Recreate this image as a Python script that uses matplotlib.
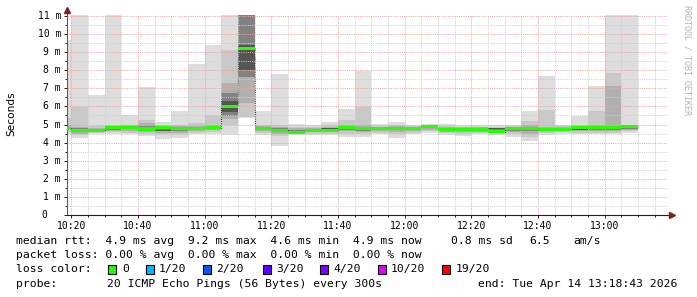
import matplotlib
matplotlib.use("Agg")
import matplotlib.pyplot as plt
from matplotlib.patches import Rectangle
from matplotlib import transforms
import numpy as np

# end time of each 5 minute step (value covers the 5 minutes before it)
end_times = ["10:20", "10:25", "10:30", "10:35", "10:40", "10:45", "10:50", "10:55",
             "11:00", "11:05", "11:10", "11:15", "11:20", "11:25", "11:30", "11:35",
             "11:40", "11:45", "11:50", "11:55", "12:00", "12:05", "12:10", "12:15",
             "12:20", "12:25", "12:30", "12:35", "12:40", "12:45", "12:50", "12:55",
             "13:00", "13:05", "13:10"]

# median rtt in ms
median = [4.80, 4.65, 4.67, 4.83, 4.85, 4.75, 4.82, 4.80, 4.80, 4.82, 6.00, 9.20,
          4.78, 4.68, 4.58, 4.67, 4.68, 4.85, 4.80, 4.78, 4.80, 4.80, 4.87, 4.72,
          4.70, 4.70, 4.60, 4.80, 4.80, 4.70, 4.73, 4.82, 4.82, 4.82, 4.87]

# smoke, outer band: min / max ping (11.5 = above the top of the graph)
ping_min = [4.50, 4.25, 4.50, 4.50, 4.45, 4.35, 4.20, 4.25, 4.45, 4.50, 4.41, 5.35,
            4.40, 3.80, 4.40, 4.42, 4.40, 4.30, 4.30, 4.45, 4.25, 4.45, 4.52, 4.42,
            4.35, 4.45, 4.40, 4.30, 4.08, 4.40, 4.50, 4.45, 4.45, 4.45, 4.55]
ping_max = [9.65, 11.5, 6.62, 11.5, 5.52, 7.05, 5.13, 5.72, 8.32, 9.37, 11.5, 11.5,
            5.75, 7.80, 5.05, 5.00, 5.15, 5.87, 7.95, 5.05, 5.12, 5.00, 5.02, 5.05,
            4.97, 4.97, 5.00, 5.00, 5.72, 7.70, 5.00, 5.47, 7.10, 11.5, 11.5]

# inner smoke bands (darker towards the middle)
band2_lo = [4.60, 4.40, 4.55, 4.58, 4.55, 4.50, 4.40, 4.40, 4.55, 4.60, 4.95, 5.42,
            4.55, 4.35, 4.48, 4.50, 4.50, 4.50, 4.45, 4.55, 4.45, 4.55, 4.65, 4.52,
            4.48, 4.55, 4.48, 4.45, 4.30, 4.55, 4.58, 4.55, 4.55, 4.55, 4.62]
band2_hi = [5.35, 5.97, 4.90, 5.00, 5.00, 5.23, 4.98, 4.95, 5.07, 5.50, 9.10, 11.5,
            5.00, 5.00, 4.85, 4.88, 4.95, 5.23, 5.95, 4.92, 4.98, 4.92, 4.97, 4.92,
            4.88, 4.88, 4.88, 4.92, 5.18, 5.79, 4.90, 4.95, 5.73, 7.85, 5.00]
band3_lo = [4.68, 4.50, 4.60, 4.65, 4.65, 4.58, 4.55, 4.55, 4.62, 4.68, 5.30, 6.20,
            4.62, 4.50, 4.52, 4.56, 4.57, 4.62, 4.58, 4.62, 4.60, 4.64, 4.72, 4.58,
            4.56, 4.60, 4.54, 4.58, 4.50, 4.62, 4.63, 4.62, 4.62, 4.62, 4.68]
band3_hi = [4.95, 4.85, 4.80, 4.92, 4.95, 5.07, 4.90, 4.90, 4.92, 4.95, 7.30, 11.5,
            4.90, 4.88, 4.78, 4.82, 4.88, 5.00, 4.95, 4.86, 4.90, 4.88, 4.95, 4.88,
            4.85, 4.84, 4.80, 4.88, 4.95, 4.88, 4.86, 4.88, 4.95, 7.10, 4.92]
band4_lo = [4.72, 4.58, 4.63, 4.72, 4.75, 4.65, 4.62, 4.65, 4.70, 4.74, 5.46, 7.60,
            4.70, 4.58, 4.55, 4.60, 4.62, 4.70, 4.65, 4.68, 4.68, 4.70, 4.78, 4.63,
            4.62, 4.64, 4.58, 4.66, 4.62, 4.66, 4.67, 4.68, 4.70, 4.70, 4.74]
band4_hi = [4.88, 4.80, 4.75, 4.88, 4.90, 4.90, 4.75, 4.85, 4.88, 4.90, 6.75, 11.5,
            4.86, 4.80, 4.70, 4.77, 4.82, 4.92, 4.78, 4.84, 4.85, 4.85, 4.93, 4.82,
            4.80, 4.80, 4.74, 4.84, 4.88, 4.80, 4.80, 4.84, 4.88, 4.92, 4.90]
band5_lo = [4.76, 4.62, 4.65, 4.78, 4.80, 4.70, 4.65, 4.72, 4.75, 4.78, 5.70, 8.00,
            4.74, 4.63, 4.57, 4.63, 4.65, 4.76, 4.68, 4.72, 4.74, 4.75, 4.90, 4.66,
            4.65, 4.66, 4.76, 4.72, 4.70, 4.68, 4.70, 4.72, 4.75, 4.75, 4.78]
band5_hi = [4.84, 4.75, 4.72, 4.86, 4.88, 4.82, 4.70, 4.84, 4.84, 4.86, 6.30, 9.40,
            4.82, 4.74, 4.64, 4.72, 4.78, 4.90, 4.74, 4.82, 4.84, 4.84, 4.96, 4.78,
            4.76, 4.76, 4.80, 4.82, 4.84, 4.76, 4.77, 4.82, 4.85, 4.86, 4.88]

smoke_cols = ["#dddddd", "#c8c8c8", "#b0b0b0", "#828282", "#555555"]

x_labels = ["10:20", "10:40", "11:00", "11:20", "11:40", "12:00", "12:20", "12:40", "13:00"]
y_vals = [0, 1, 2, 3, 4, 5, 6, 7, 8, 9, 10, 11]

loss_labels = ["0", "1/20", "2/20", "3/20", "4/20", "10/20", "19/20"]
loss_cols = ["#26ff00", "#00b8ff", "#0059ff", "#5e00ff", "#7e00ff", "#dd00ff", "#ff0000"]


def mins(s):
    h, m = s.split(":")
    return (int(h) - 10) * 60 + int(m)


W, H = 697, 297
mono = "DejaVu Sans Mono"

t_end = np.array([mins(t) for t in end_times], dtype=float)
edges = np.concatenate([[t_end[0] - 5], t_end])
med = np.array(median)

fig = plt.figure(figsize=(W / 100, H / 100), dpi=100)
fig.patch.set_facecolor("white")
ax = fig.add_axes([67 / W, 82 / H, 600 / W, 200 / H])

x0 = mins("13:18") + 43 / 60 - 180
ax.set_xlim(x0, x0 + 180)
ax.set_ylim(0, 11.05)

# smoke
bands = [(ping_min, ping_max), (band2_lo, band2_hi), (band3_lo, band3_hi),
         (band4_lo, band4_hi), (band5_lo, band5_hi)]
for (lo, hi), c in zip(bands, smoke_cols):
    ax.stairs(hi, edges, baseline=lo, fill=True, color=c, lw=0, zorder=1)

# median
ax.stairs(med, edges, baseline=None, color="#202020", lw=0.8, ls=(0, (1, 1)), zorder=2)
ax.stairs(med + 0.085, edges, baseline=med - 0.085, fill=True, color="#26ff00", lw=0, zorder=3)

# grid
ax.set_xticks([mins(t) for t in x_labels])
ax.set_xticklabels(x_labels, family=mono, fontsize=7)
ax.set_xticks(np.arange(mins("10:20"), x0 + 180, 5), minor=True)
ax.set_yticks(y_vals)
ax.set_yticks(np.arange(0.5, 11, 1.0), minor=True)
ax.set_yticklabels([])
ax.set_axisbelow(False)
ax.grid(which="major", color="#eea4a4", lw=0.72, ls=(0, (1, 1.2)))
ax.grid(which="minor", color="#cfcfcf", lw=0.72, ls=(0, (1, 1.2)))
ax.tick_params(which="major", length=2.2, width=0.7, color="#202020", pad=2)
ax.tick_params(which="minor", length=1.4, width=0.7, color="#202020")

for s in ["top", "right"]:
    ax.spines[s].set_visible(False)
ax.spines["bottom"].set_color("#202020")
ax.spines["left"].set_color("#606060")
ax.spines["bottom"].set_linewidth(0.8)
ax.spines["left"].set_linewidth(0.8)

# axis arrows
ax.plot([1.0, 1.008], [0, 0], color="#202020", lw=0.8, transform=ax.transAxes, clip_on=False)
ax.plot([1.009], [0], marker=">", ms=4, color="#802020", transform=ax.transAxes, clip_on=False)
ax.plot([0, 0], [1.0, 1.02], color="#606060", lw=0.8, transform=ax.transAxes, clip_on=False)
ax.plot([0], [1.025], marker="^", ms=4, color="#802020", transform=ax.transAxes, clip_on=False)

# y labels
tr = transforms.blended_transform_factory(fig.transFigure, ax.transData)
for v in y_vals:
    if v == 0:
        ax.text(47.5 / W, v, "0", transform=tr, ha="right", va="center", family=mono, fontsize=7)
    else:
        ax.text(61 / W, v, "%d m" % v, transform=tr, ha="right", va="center", family=mono, fontsize=7)

fig.text(11 / W, 1 - 114 / H, "Seconds", rotation=90, ha="center", va="center",
         family="DejaVu Sans", fontsize=7.6)
fig.text(687 / W, 1 - 60 / H, "RRDTOOL / TOBI OETIKER", rotation=270, ha="center", va="center",
         family=mono, fontsize=6, color="#b4b4b4")

# legend
fs = 8.2
def ltext(x, y, s, **kw):
    fig.text(x / W, 1 - y / H, s, ha="left", va="center", family=mono, fontsize=fs, **kw)

ltext(16, 241, "median rtt:  4.9 ms avg  9.2 ms max  4.6 ms min  4.9 ms now")
ltext(451, 241, "0.8 ms sd")
ltext(529, 241, "6.5")
ltext(573, 241, "am/s")
ltext(16, 255, "packet loss: 0.00 % avg  0.00 % max  0.00 % min  0.00 % now")
ltext(16, 269, "loss color:")
box_x = [108, 146, 203, 263, 320, 378, 442]
lab_x = [122, 159, 216, 276, 333, 391, 456]
for bx, lx, lab, c in zip(box_x, lab_x, loss_labels, loss_cols):
    fig.add_artist(Rectangle((bx / W, 1 - 273.5 / H), 8 / W, 9 / H, transform=fig.transFigure,
                             facecolor=c, edgecolor="black", lw=0.8))
    ltext(lx, 269, lab)
ltext(16, 284, "probe:")
ltext(107, 284, "20 ICMP Echo Pings (56 Bytes) every 300s")
ltext(478, 284, "end: Tue Apr 14 13:18:43 2026")

fig.savefig("out.png", dpi=100, facecolor="white")
